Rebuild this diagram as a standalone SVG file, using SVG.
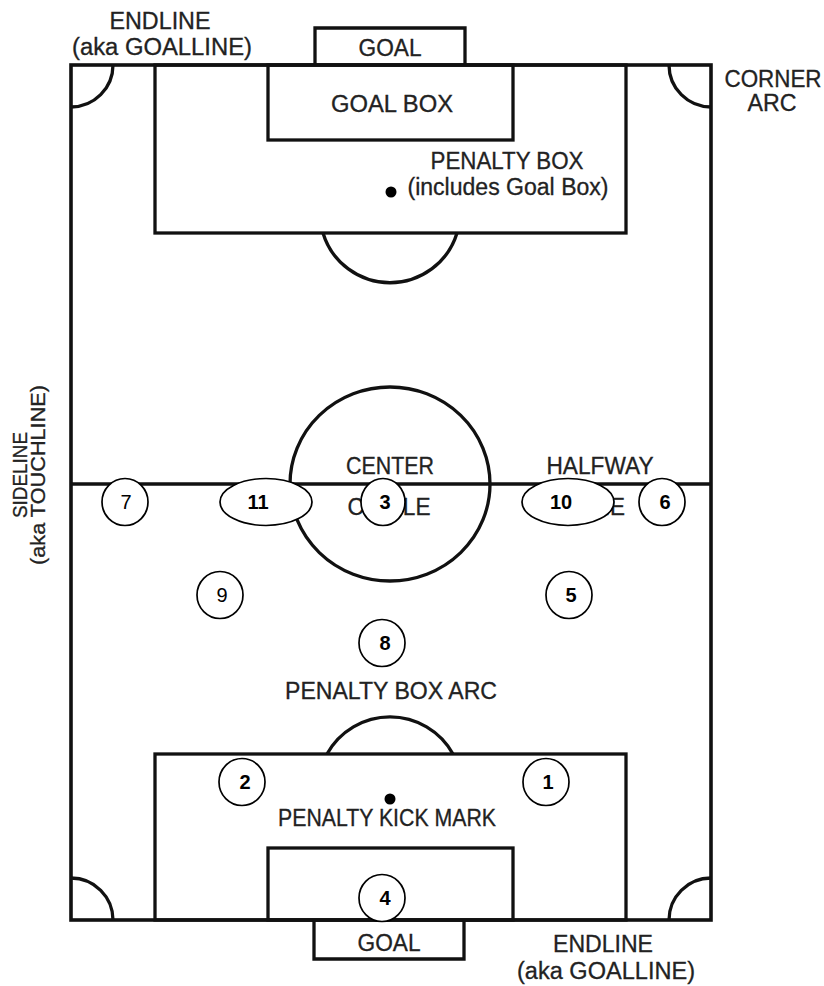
<svg xmlns="http://www.w3.org/2000/svg" width="824" height="986" viewBox="0 0 824 986">
<style>
.ln{fill:none;stroke:#111;stroke-width:3.3}
.outer{fill:none;stroke:#111;stroke-width:3.6}
.lbl{font-family:"Liberation Sans",Arial,sans-serif;font-size:23px;fill:#222;stroke:#222;stroke-width:0.3;text-anchor:middle}
.side{font-size:20px}
.pl{fill:#fff;stroke:#000;stroke-width:1.7}
.num{font-family:"Liberation Sans",Arial,sans-serif;font-size:20px;font-weight:bold;fill:#000;text-anchor:middle}
.numr{font-family:"Liberation Sans",Arial,sans-serif;font-size:20px;fill:#000;text-anchor:middle}
.dot{fill:#000}
</style>
<rect width="824" height="986" fill="#fff"/>
<g id="field">
  <rect class="outer" x="71" y="65" width="640" height="855"/>
  <line class="ln" x1="71" y1="484" x2="711" y2="484"/>
  <ellipse class="ln" cx="390" cy="484" rx="100" ry="97"/>
  <path class="ln" d="M315 65 V28 H465 V65"/>
  <rect class="ln" x="268" y="65" width="245" height="75"/>
  <rect class="ln" x="155" y="65" width="471" height="168"/>
  <path class="ln" d="M323 233 A70 70 0 0 0 457 233"/>
  <circle class="dot" cx="391" cy="192" r="5.5"/>
  <path class="ln" d="M314 920 V959 H464 V920"/>
  <rect class="ln" x="268" y="848" width="245" height="72"/>
  <rect class="ln" x="155" y="754" width="471" height="166"/>
  <path class="ln" d="M327 754 A72 72 0 0 1 453 754"/>
  <circle class="dot" cx="390" cy="799" r="5.5"/>
  <path class="ln" d="M113 65 A42 42 0 0 1 71 107"/>
  <path class="ln" d="M669 65 A42 42 0 0 0 711 107"/>
  <path class="ln" d="M71 878 A42 42 0 0 1 113 920"/>
  <path class="ln" d="M711 878 A42 42 0 0 0 669 920"/>
</g>
<g id="labels">
  <text class="lbl" x="160" y="29" textLength="101" lengthAdjust="spacingAndGlyphs">ENDLINE</text>
  <text class="lbl" x="162" y="55" textLength="180" lengthAdjust="spacingAndGlyphs">(aka GOALLINE)</text>
  <text class="lbl" x="390" y="56" textLength="63" lengthAdjust="spacingAndGlyphs">GOAL</text>
  <text class="lbl" x="392" y="112" textLength="122" lengthAdjust="spacingAndGlyphs">GOAL BOX</text>
  <text class="lbl" x="507" y="169" textLength="153" lengthAdjust="spacingAndGlyphs">PENALTY BOX</text>
  <text class="lbl" x="508" y="195" textLength="201" lengthAdjust="spacingAndGlyphs">(includes Goal Box)</text>
  <text class="lbl" x="773" y="87" textLength="97" lengthAdjust="spacingAndGlyphs">CORNER</text>
  <text class="lbl" x="772" y="111" textLength="49" lengthAdjust="spacingAndGlyphs">ARC</text>
  <text class="lbl" x="390" y="474" textLength="88" lengthAdjust="spacingAndGlyphs">CENTER</text>
  <text class="lbl" x="389" y="515" textLength="83" lengthAdjust="spacingAndGlyphs">CIRCLE</text>
  <text class="lbl" x="600" y="474" textLength="107" lengthAdjust="spacingAndGlyphs">HALFWAY</text>
  <text class="lbl" x="600" y="515" textLength="50" lengthAdjust="spacingAndGlyphs">LINE</text>
  <text class="lbl" x="391" y="699" textLength="212" lengthAdjust="spacingAndGlyphs">PENALTY BOX ARC</text>
  <text class="lbl" x="387" y="826" textLength="218" lengthAdjust="spacingAndGlyphs">PENALTY KICK MARK</text>
  <text class="lbl" x="389" y="951" textLength="63" lengthAdjust="spacingAndGlyphs">GOAL</text>
  <text class="lbl" x="603" y="952" textLength="100" lengthAdjust="spacingAndGlyphs">ENDLINE</text>
  <text class="lbl" x="606" y="979" textLength="178" lengthAdjust="spacingAndGlyphs">(aka GOALLINE)</text>
  <text class="lbl side" transform="translate(27,475) rotate(-90)" textLength="86" lengthAdjust="spacingAndGlyphs">SIDELINE</text>
  <text class="lbl side" transform="translate(45,475) rotate(-90)" textLength="180" lengthAdjust="spacingAndGlyphs">(aka TOUCHLINE)</text>
</g>
<g id="connectors"></g>
<g id="p7"><ellipse class="pl" cx="125" cy="502" rx="23" ry="23.5"/><text class="numr" x="126" y="509">7</text></g>
<g id="p11"><ellipse class="pl" cx="266" cy="502" rx="46" ry="23.5"/><text class="num" x="258" y="509">11</text></g>
<g id="p3"><ellipse class="pl" cx="383" cy="502" rx="22" ry="23.5"/><text class="num" x="385" y="509">3</text></g>
<g id="p10"><ellipse class="pl" cx="568" cy="502" rx="46" ry="23.5"/><text class="num" x="561" y="509">10</text></g>
<g id="p6"><ellipse class="pl" cx="662" cy="502" rx="23" ry="23.5"/><text class="num" x="665" y="509">6</text></g>
<g id="p9"><ellipse class="pl" cx="220" cy="595" rx="23" ry="23.5"/><text class="numr" x="222" y="602">9</text></g>
<g id="p5"><ellipse class="pl" cx="569" cy="595" rx="23" ry="23.5"/><text class="num" x="571" y="602">5</text></g>
<g id="p8"><ellipse class="pl" cx="382" cy="643" rx="23" ry="23.5"/><text class="num" x="385" y="650">8</text></g>
<g id="p2"><ellipse class="pl" cx="242" cy="782" rx="23" ry="23.5"/><text class="num" x="245" y="789">2</text></g>
<g id="p1"><ellipse class="pl" cx="546" cy="782" rx="23" ry="23.5"/><text class="num" x="548" y="789">1</text></g>
<g id="p4"><ellipse class="pl" cx="382" cy="898" rx="23" ry="23.5"/><text class="num" x="385" y="905">4</text></g>
</svg>
